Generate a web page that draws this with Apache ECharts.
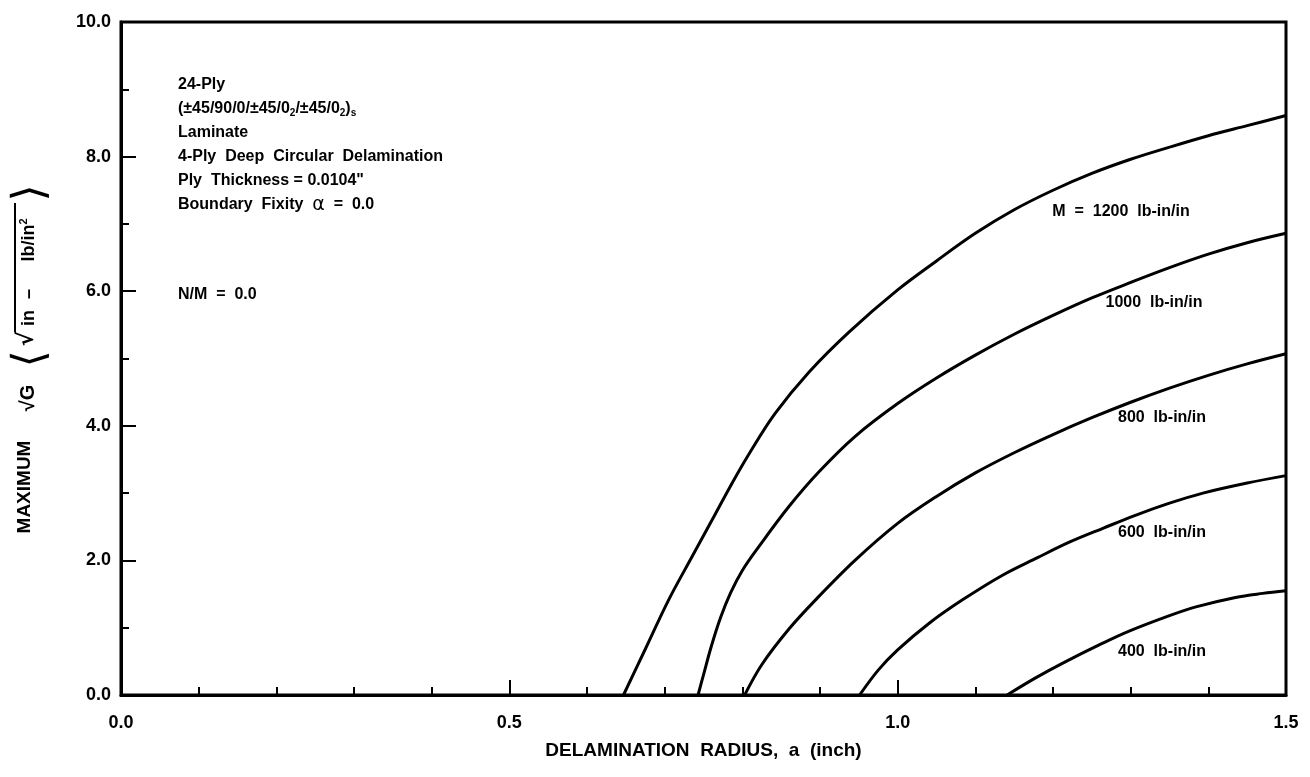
<!DOCTYPE html>
<html>
<head>
<meta charset="utf-8">
<script src="https://cdn.jsdelivr.net/npm/echarts@6/dist/echarts.min.js"></script>
<style>
html,body{margin:0;padding:0;background:#fff;}
#chart{width:1310px;height:777px;}
</style>
</head>
<body>
<div id="chart"></div>
<script>
// ---- data ----
const m1200_x = [0.647, 0.675, 0.705, 0.735, 0.761, 0.785, 0.808, 0.842, 0.886, 0.938, 1.0, 1.05, 1.1, 1.15, 1.2, 1.25, 1.3, 1.35, 1.4, 1.45, 1.5];
const m1200_y = [0, 0.68, 1.41, 2.05, 2.60, 3.11, 3.57, 4.18, 4.80, 5.40, 6.02, 6.45, 6.86, 7.21, 7.50, 7.75, 7.96, 8.14, 8.31, 8.46, 8.61];

const m1000_x = [0.743, 0.750, 0.760, 0.772, 0.785, 0.80, 0.821, 0.86, 0.899, 0.945, 1.0, 1.05, 1.1, 1.15, 1.2, 1.25, 1.3, 1.35, 1.4, 1.45, 1.5];
const m1000_y = [0, 0.30, 0.72, 1.15, 1.52, 1.85, 2.20, 2.80, 3.32, 3.84, 4.33, 4.71, 5.05, 5.36, 5.64, 5.90, 6.13, 6.35, 6.55, 6.72, 6.86];

const m800_x = [0.803, 0.825, 0.86, 0.894, 0.945, 1.0, 1.05, 1.1, 1.15, 1.2, 1.25, 1.3, 1.35, 1.4, 1.45, 1.5];
const m800_y = [0, 0.45, 0.98, 1.41, 2.00, 2.55, 2.95, 3.30, 3.60, 3.87, 4.12, 4.35, 4.56, 4.75, 4.92, 5.07];

const m600_x = [0.951, 0.975, 1.0, 1.041, 1.083, 1.135, 1.18, 1.221, 1.265, 1.306, 1.35, 1.393, 1.45, 1.5];
const m600_y = [0, 0.37, 0.67, 1.07, 1.41, 1.78, 2.04, 2.27, 2.48, 2.67, 2.85, 3.00, 3.15, 3.26];

const m400_x = [1.141, 1.177, 1.212, 1.264, 1.298, 1.35, 1.384, 1.435, 1.47, 1.5];
const m400_y = [0, 0.25, 0.47, 0.77, 0.95, 1.18, 1.31, 1.45, 1.51, 1.55];

const curveLabels = ['M  =  1200  lb-in/in', '1000  lb-in/in', '800  lb-in/in', '600  lb-in/in', '400  lb-in/in'];
const infoLines = ['24-Ply', '(±45/90/0/±45/0{s|2}/±45/0{s|2}){s|s}', 'Laminate', '4-Ply  Deep  Circular  Delamination', 'Ply  Thickness = 0.0104"', 'Boundary  Fixity  {g|α}  =  0.0'];
const infoLast = 'N/M  =  0.0';
const xTitle = 'DELAMINATION  RADIUS,  a  (inch)';

const X_MIN = 0, X_MAX = 1.5, X_STEP = 0.5;
const Y_MIN = 0, Y_MAX = 10, Y_STEP = 2;

function zip(xs, ys){ return xs.map((x,i)=>[x, ys[i]]); }

const FONT = '"Liberation Sans", Arial, Helvetica, sans-serif';
const chart = echarts.init(document.getElementById('chart'), null, {renderer:'canvas'});

function lineSeries(name, xs, ys){
  return {
    name, type:'line', data: zip(xs, ys), smooth: 0.35, showSymbol:false, symbol:'none',
    lineStyle:{color:'#000', width:3}, silent:true, animation:false
  };
}

const infoRich = {
  s:{fontFamily:FONT, fontWeight:'bold', fontSize:10, fill:'#000', padding:[8,0,0,0]},
  g:{fontFamily:'"DejaVu Sans", sans-serif', fontWeight:'normal', fontSize:19, fill:'#000'}
};

const graphics = [];
// info text block
const infoX = 178, infoY0 = 85, infoDy = 24;
infoLines.forEach((t,i)=>{
  graphics.push({type:'text', x:infoX, y:infoY0 + i*infoDy,
    style:{text:t, font:'bold 16px ' + FONT, fill:'#000', align:'left', verticalAlign:'middle', rich:infoRich}});
});
graphics.push({type:'text', x:infoX, y:295, style:{text:infoLast, font:'bold 16px ' + FONT, fill:'#000', align:'left', verticalAlign:'middle'}});

// curve labels (centered)
const labelPos = [[1121,212],[1154,303],[1162,418],[1162,533],[1162,652]];
curveLabels.forEach((t,i)=>{
  graphics.push({type:'text', x:labelPos[i][0], y:labelPos[i][1],
    style:{text:t, font:'bold 16px ' + FONT, fill:'#000', align:'center', verticalAlign:'middle'}});
});

// y-axis title pieces (rotated, reading bottom to top)
function vtext(txt, x, y, font, rich){
  graphics.push({type:'text', x, y, rotation:Math.PI/2,
    style:{text:txt, font, fill:'#000', align:'center', verticalAlign:'middle', rich}});
}
vtext('MAXIMUM', 25, 487, 'bold 19px ' + FONT);
vtext('√G', 28, 398, 'bold 20px ' + FONT);
vtext('⟨', 32, 359, 'normal 44px "DejaVu Sans", sans-serif');
vtext('√', 27, 339, 'bold 22px "DejaVu Sans", sans-serif');
vtext('in', 29, 318, 'bold 18px ' + FONT);
vtext('–', 29, 294, 'bold 18px ' + FONT);
vtext('lb/in{p|2}', 29, 240, 'bold 18px ' + FONT, {p:{fontFamily:FONT, fontWeight:'bold', fontSize:11, fill:'#000', padding:[0,0,10,0]}});
vtext('⟩', 32, 193, 'normal 44px "DejaVu Sans", sans-serif');
// overline of the radical
graphics.push({type:'line', shape:{x1:15, y1:332, x2:15, y2:203}, style:{stroke:'#000', lineWidth:2}});

chart.setOption({
  animation:false,
  backgroundColor:'#fff',
  grid:{left:121, top:22, width:1165, height:673, show:true, borderColor:'#000', borderWidth:3, containLabel:false},
  xAxis:{
    type:'value', min:X_MIN, max:X_MAX, interval:X_STEP,
    name:xTitle, nameLocation:'middle', nameGap:46,
    nameTextStyle:{fontFamily:FONT, fontWeight:'bold', fontSize:19, color:'#000'},
    axisLine:{show:true, lineStyle:{color:'#000', width:3}},
    axisTick:{show:true, inside:true, length:15, lineStyle:{color:'#000', width:2}},
    minorTick:{show:true, splitNumber:5, length:8, lineStyle:{color:'#000', width:2}},
    splitLine:{show:false},
    axisLabel:{fontFamily:FONT, fontWeight:'bold', fontSize:18, color:'#000', margin:19, formatter:v=>v.toFixed(1)}
  },
  yAxis:{
    type:'value', min:Y_MIN, max:Y_MAX, interval:Y_STEP,
    axisLine:{show:true, lineStyle:{color:'#000', width:3}},
    axisTick:{show:true, inside:true, length:15, lineStyle:{color:'#000', width:2}},
    minorTick:{show:true, splitNumber:2, length:8, lineStyle:{color:'#000', width:2}},
    splitLine:{show:false},
    axisLabel:{fontFamily:FONT, fontWeight:'bold', fontSize:18, color:'#000', margin:10, formatter:v=>v.toFixed(1)}
  },
  series:[
    lineSeries('1200', m1200_x, m1200_y),
    lineSeries('1000', m1000_x, m1000_y),
    lineSeries('800', m800_x, m800_y),
    lineSeries('600', m600_x, m600_y),
    lineSeries('400', m400_x, m400_y)
  ],
  graphic:graphics
});
</script>
</body>
</html>
